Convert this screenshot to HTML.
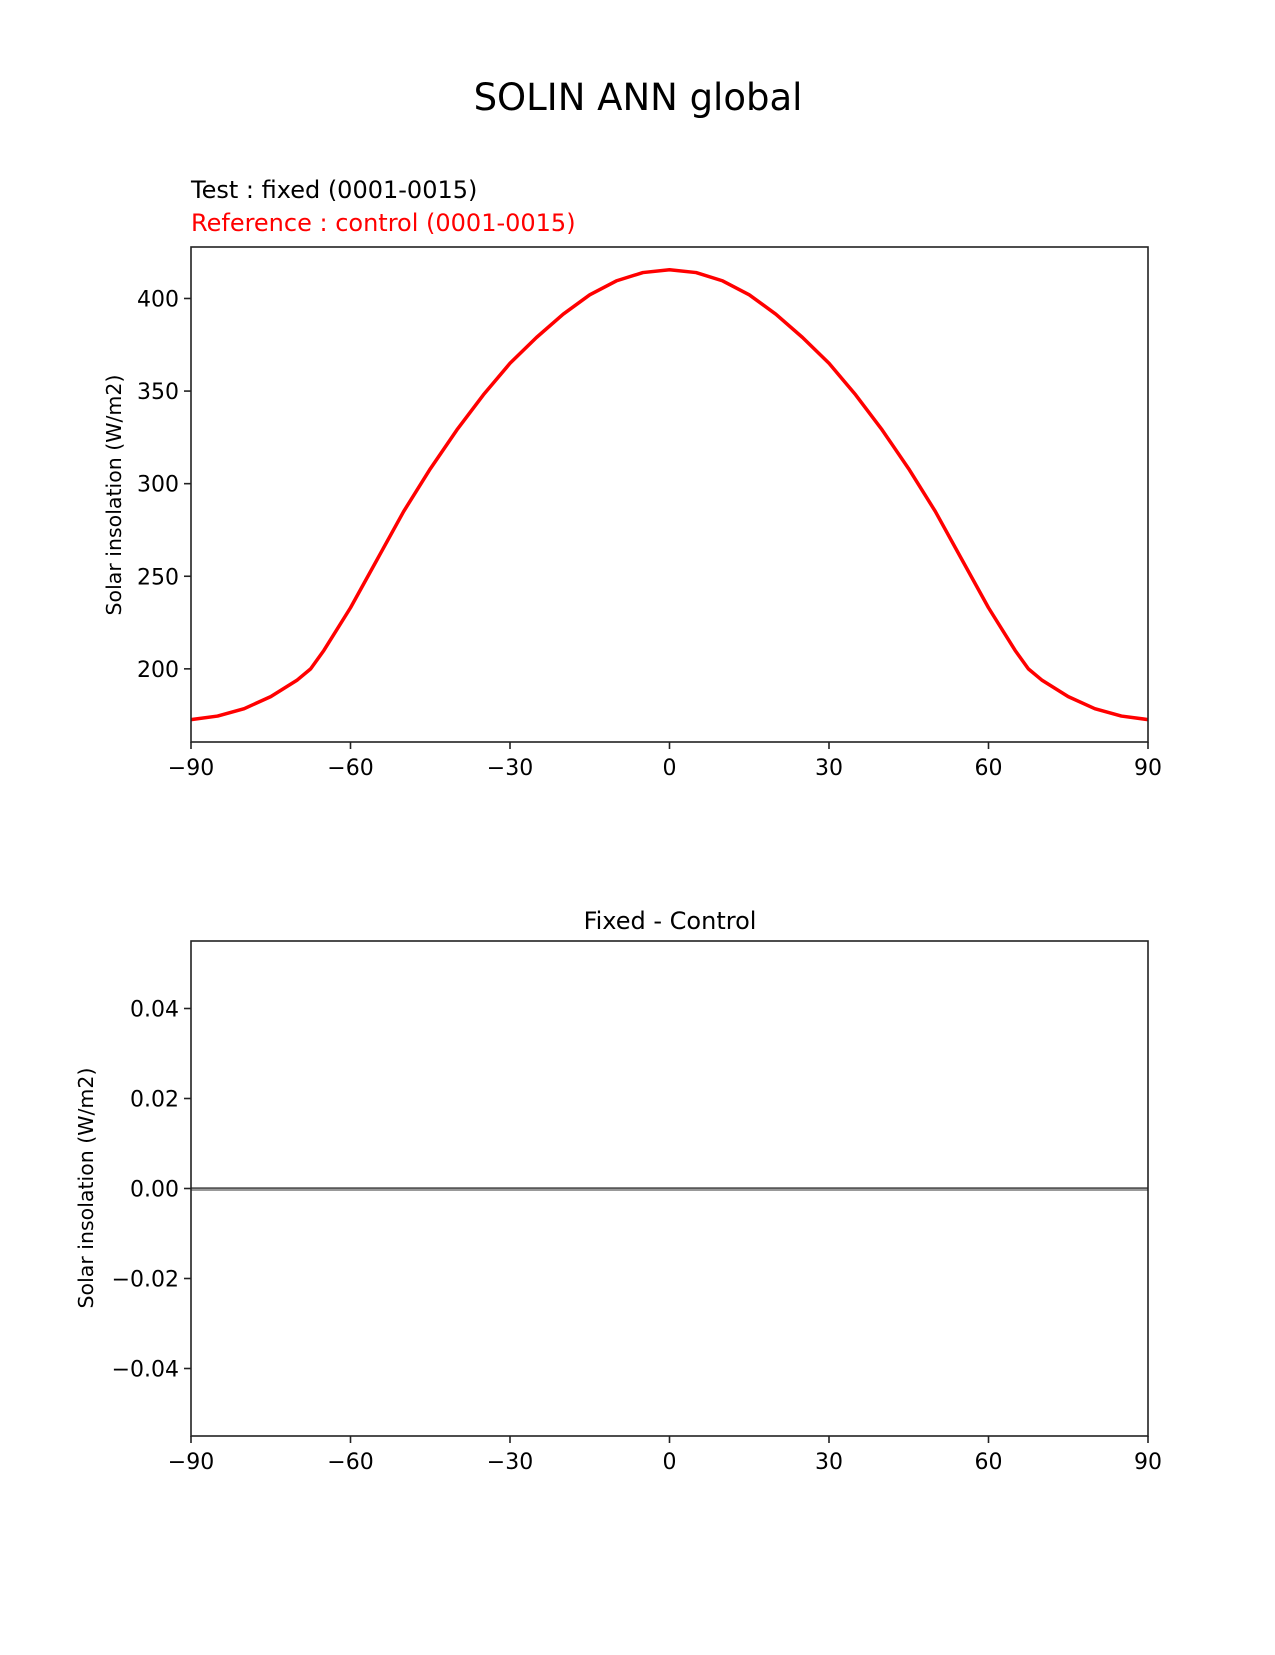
<!DOCTYPE html>
<html><head><meta charset="utf-8"><style>
body{margin:0;background:#fff}
svg text{font-family:"DejaVu Sans","Liberation Sans",sans-serif}
</style></head><body>
<svg id="fig" width="1275" height="1650" viewBox="0 0 1275 1650" xmlns="http://www.w3.org/2000/svg">
<rect width="1275" height="1650" fill="#fff"/>
<text x="638" y="110" font-size="37" text-anchor="middle">SOLIN ANN global</text>
<text x="191" y="198" font-size="24">Test : fixed (0001-0015)</text>
<text x="191" y="231" font-size="24" fill="#ff0000">Reference : control (0001-0015)</text>
<g id="topChart"></g>
<text x="670" y="929" font-size="24" text-anchor="middle">Fixed - Control</text>
<g id="botChart"></g>
<text transform="translate(121,495) rotate(-90)" font-size="20.5" text-anchor="middle">Solar insolation (W/m2)</text>
<text transform="translate(93,1188) rotate(-90)" font-size="20.5" text-anchor="middle">Solar insolation (W/m2)</text>
</svg>
<script>
const lats=[-90,-85,-80,-75,-70,-67.5,-65,-60,-55,-50,-45,-40,-35,-30,-25,-20,-15,-10,-5,0,5,10,15,20,25,30,35,40,45,50,55,60,65,67.5,70,75,80,85,90];
const solin=[172.6,174.5,178.5,185,194,200,210,233,259,285,308,329,348,365,379,391.5,402,409.5,414,415.5,414,409.5,402,391.5,379,365,348,329,308,285,259,233,210,200,194,185,178.5,174.5,172.6];
const diff=lats.map(()=>0);
const xTicks=[-90,-60,-30,0,30,60,90];
const xTickLabels=["\u221290","\u221260","\u221230","0","30","60","90"];
const topYTicks=[200,250,300,350,400];
const botYTicks=[-0.04,-0.02,0,0.02,0.04];
const botYLabels=["\u22120.04","\u22120.02","0.00","0.02","0.04"];
const NS="http://www.w3.org/2000/svg";
function mk(p,t,a){const e=document.createElementNS(NS,t);for(const k in a)e.setAttribute(k,a[k]);p.appendChild(e);return e;}
function axes(g,L,R,T,B,ymin,ymax,yt,yl,prefix){
  const sx=v=>L+(v+90)/180*(R-L);
  const sy=v=>B-(v-ymin)/(ymax-ymin)*(B-T);
  xTicks.forEach((v,i)=>{
    const t=mk(g,'line',{x1:sx(v),x2:sx(v),y1:B,y2:B+7,stroke:'#222','stroke-width':1.6});
    
    
    const tx=mk(g,'text',{x:sx(v),y:B+33,'font-size':22,'text-anchor':'middle'});tx.textContent=xTickLabels[i];
    
    
  });
  yt.forEach((v,i)=>{
    const t=mk(g,'line',{x1:L-7,x2:L,y1:sy(v),y2:sy(v),stroke:'#222','stroke-width':1.6});
    
    
    const tx=mk(g,'text',{x:L-12,y:sy(v)+8,'font-size':22,'text-anchor':'end'});tx.textContent=yl[i];
    
    
  });
  return {sx,sy};
}
const gTop=document.getElementById('topChart');
const A=axes(gTop,191,1148,247,742,160.5,427.8,topYTicks,topYTicks.map(String),'top');
const p1=mk(gTop,'polyline',{points:lats.map((l,i)=>A.sx(l)+','+A.sy(solin[i])).join(' '),fill:'none',stroke:'#ff0000','stroke-width':3.5,'stroke-linejoin':'round'});


const f1=mk(gTop,'rect',{x:191,y:247,width:957,height:495,fill:'none',stroke:'#222','stroke-width':1.6});


const gBot=document.getElementById('botChart');
const B=axes(gBot,191,1148,941,1436,-0.055,0.055,botYTicks,botYLabels,'bottom');
const z=mk(gBot,'line',{x1:191,x2:1148,y1:B.sy(0)+1,y2:B.sy(0)+1,stroke:'#999','stroke-width':3});


const p2=mk(gBot,'polyline',{points:lats.map((l,i)=>B.sx(l)+','+(B.sy(diff[i])-0.5)).join(' '),fill:'none',stroke:'#333','stroke-width':1.2});


const f2=mk(gBot,'rect',{x:191,y:941,width:957,height:495,fill:'none',stroke:'#222','stroke-width':1.6});


</script>
</body></html>
